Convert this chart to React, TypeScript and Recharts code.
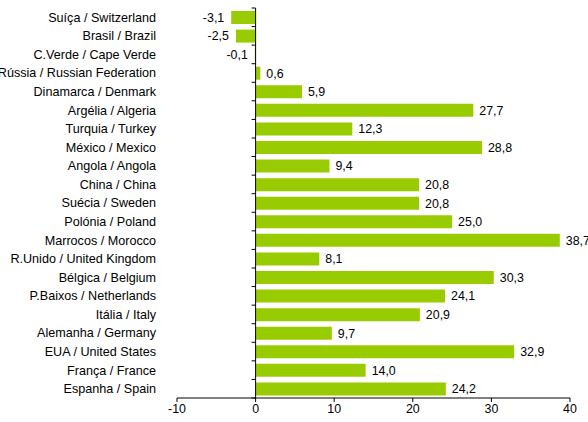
import React from 'react';
import {
  BarChart,
  Bar,
  XAxis,
  YAxis,
  ReferenceLine,
  LabelList,
} from 'recharts';

const countries = [
  'Suíça / Switzerland',
  'Brasil / Brazil',
  'C.Verde / Cape Verde',
  'Rússia / Russian Federation',
  'Dinamarca / Denmark',
  'Argélia / Algeria',
  'Turquia / Turkey',
  'México / Mexico',
  'Angola / Angola',
  'China / China',
  'Suécia / Sweden',
  'Polónia / Poland',
  'Marrocos / Morocco',
  'R.Unido / United Kingdom',
  'Bélgica / Belgium',
  'P.Baixos / Netherlands',
  'Itália / Italy',
  'Alemanha / Germany',
  'EUA / United States',
  'França / France',
  'Espanha / Spain',
];

const growth = [
  -3.1, -2.5, -0.1, 0.6, 5.9, 27.7, 12.3, 28.8, 9.4, 20.8, 20.8, 25.0, 38.7,
  8.1, 30.3, 24.1, 20.9, 9.7, 32.9, 14.0, 24.2,
];

const xTicks = [-10, 0, 10, 20, 30, 40];

const data = countries.map((name, i) => ({ name, value: growth[i] }));

const font = '"Liberation Sans", Arial, sans-serif';
const fs = 12.4;

// value labels: outside the bar end, left side for negatives
const renderValue = (props: any) => {
  const { x, y, width, height, value } = props;
  const a = Number(x);
  const b = Number(x) + Number(width);
  const cy = Number(y) + Number(height) / 2;
  const neg = value < 0;
  const end = neg ? Math.min(a, b) : Math.max(a, b);
  return (
    <text
      x={neg ? end - 7 : end + 6}
      y={cy}
      dy="0.35em"
      textAnchor={neg ? 'end' : 'start'}
      fontSize={fs}
      fontFamily={font}
      fill="#000"
    >
      {Number(value).toFixed(1).replace('.', ',')}
    </text>
  );
};

// category names on one line, no wrapping
const renderName = (props: any) => {
  const { x, y, payload } = props;
  return (
    <text x={x} y={y} dy="0.35em" textAnchor="end" fontSize={12.6} fontFamily={font} fill="#000">
      {payload.value}
    </text>
  );
};

// zero line with small ticks between categories
const zeroLine = (props: any) => {
  const { x1, y1, x2, y2 } = props;
  const n = countries.length;
  const top = Math.min(y1, y2);
  const bottom = Math.max(y1, y2);
  const step = (bottom - top) / n;
  const marks = [];
  for (let i = 0; i <= n; i++) {
    const yy = top + step * i;
    marks.push(<line key={i} x1={x1 - 4} x2={x1} y1={yy} y2={yy} stroke="#000" strokeWidth={1} />);
  }
  return (
    <g>
      <line x1={x1} y1={y1} x2={x2} y2={y2} stroke="#000" strokeWidth={1} />
      {marks}
    </g>
  );
};

export default function App() {
  return (
    <div
      style={{
        position: 'absolute',
        left: 0,
        top: 0,
        width: 588,
        height: 422,
        background: '#fff',
        overflow: 'hidden',
      }}
    >
      <BarChart
        width={588}
        height={422}
        data={data}
        layout="vertical"
        barSize={13}
        margin={{ top: 8, right: 18, left: 7, bottom: 4 }}
      >
        <XAxis
          type="number"
          domain={[-10, 40]}
          ticks={xTicks}
          height={20}
          tickSize={4}
          tickMargin={2}
          axisLine={{ stroke: '#000' }}
          tickLine={{ stroke: '#000' }}
          tick={{ fill: '#000', fontSize: fs, fontFamily: font }}
        />
        <YAxis
          type="category"
          dataKey="name"
          width={170}
          interval={0}
          axisLine={false}
          tickLine={false}
          tickSize={6}
          tickMargin={15}
          tick={renderName}
        />
        <Bar dataKey="value" fill="#99cc00" isAnimationActive={false}>
          <LabelList dataKey="value" content={renderValue} />
        </Bar>
        <ReferenceLine x={0} shape={zeroLine} />
      </BarChart>
    </div>
  );
}
